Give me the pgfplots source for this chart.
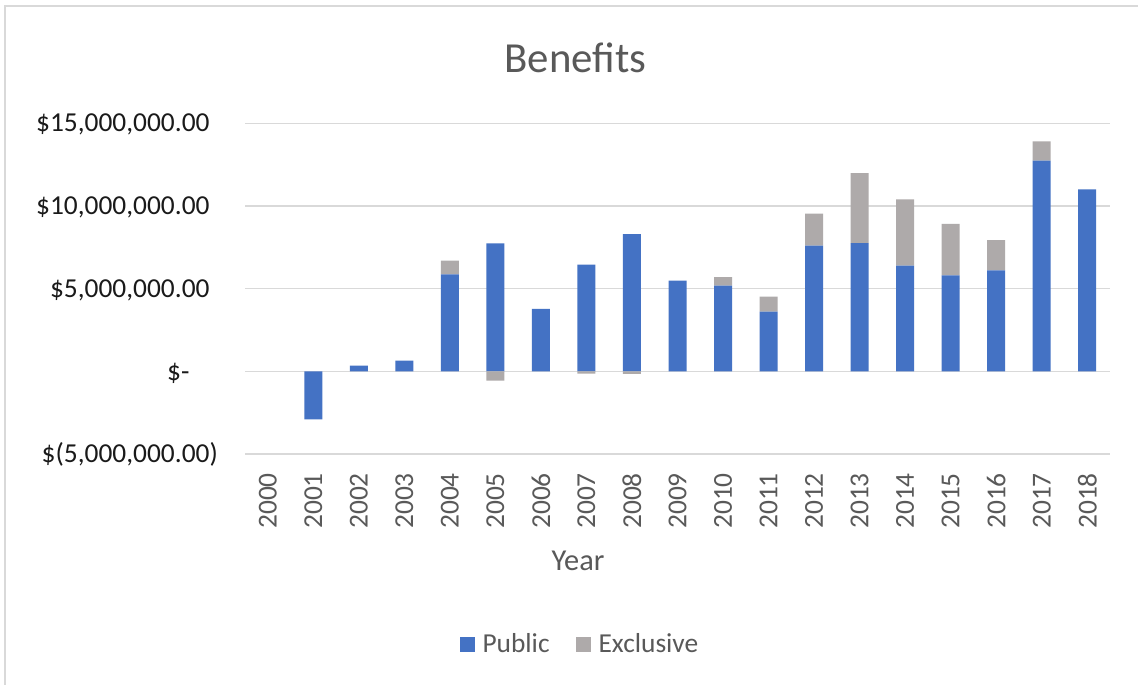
\documentclass[border=0pt]{standalone}
\usepackage{pgfplots}
\pgfplotsset{compat=1.18}
\usepackage{pgfplotstable}
\usepackage{fontspec}
\setmainfont{Carlito}

\definecolor{pubblue}{HTML}{4472C4}
\definecolor{exgray}{HTML}{AEAAAA}
\definecolor{txtgray}{HTML}{595959}
\definecolor{gridgray}{HTML}{D9D9D9}
\definecolor{ydark}{HTML}{1A1A1A}

% Benefits by year (index 0 = 2000); exclusive part above the public bar
\pgfplotstableread{
idx public   exclusive
0   0        0
1   -2900000 0
2   340000   0
3   640000   0
4   5870000  820000
5   7740000  0
6   3770000  0
7   6450000  0
8   8290000  0
9   5480000  0
10  5180000  510000
11  3610000  910000
12  7600000  1930000
13  7760000  4220000
14  6390000  4010000
15  5810000  3100000
16  6110000  1830000
17  12740000 1170000
18  11010000 0
}\benefits

% Negative exclusive amounts, drawn downward from zero
\pgfplotstableread{
idx exclusive
5   -570000
7   -140000
8   -160000
}\exclusiveneg

\pgfplotsset{
  benefitframe/.style={
    scale only axis,
    width=865bp, height=330.7bp,
    at={(245bp,231bp)}, anchor=south west,
    xmin=-0.5, xmax=18.5,
    ymin=-5000000, ymax=15000000,
    bar width=18bp,
  },
}

\begin{document}
\begin{tikzpicture}
\useasboundingbox (0,0) rectangle (1138bp,685bp);
\fill[white] (0,0) rectangle (1138bp,685bp);
\draw[gridgray, line width=2bp] (5bp,0) -- (5bp,679bp) -- (1138bp,679bp);

\begin{axis}[
  benefitframe,
  ybar stacked,
  axis line style={draw=none},
  major tick length=0pt,
  ymajorgrids,
  grid style={gridgray, line width=1.5bp},
  scaled y ticks=false,
  ytick={-5000000,0,5000000,10000000,15000000},
  yticklabels={{\$(5,000,000.00)},{\$-\kern20bp\phantom{)}},{\$5,000,000.00\phantom{)}},{\$10,000,000.00\phantom{)}},{\$15,000,000.00\phantom{)}}},
  xtick={0,...,18},
  xticklabels={2000,2001,2002,2003,2004,2005,2006,2007,2008,2009,2010,2011,2012,2013,2014,2015,2016,2017,2018},
  tick label style={font=\fontsize{27.5}{33}\selectfont, text=txtgray},
  yticklabel style={anchor=base east, inner sep=0pt, xshift=-27bp, yshift=-8.7bp, text=ydark},
  xticklabel style={rotate=90, anchor=east, inner sep=0pt},
  xticklabel shift=19bp,
  legend columns=2,
  legend image code/.code={\fill[#1] (0bp,-8bp) rectangle (15bp,7bp);},
  legend style={
    at={(0.386,-0.575)}, anchor=center,
    draw=none, fill=none,
    font=\fontsize{27.5}{33}\selectfont, text=txtgray,
    nodes={inner sep=0pt},
    /tikz/every odd column/.append style={column sep=8bp},
    /tikz/every even column/.append style={column sep=26bp},
  },
]
\addplot[fill=pubblue, draw=none] table[x=idx, y=public] {\benefits};
\addplot[fill=exgray, draw=none] table[x=idx, y=exclusive] {\benefits};
\legend{Public, Exclusive}
\end{axis}

\begin{axis}[
  benefitframe,
  ybar, bar shift=0pt,
  hide axis,
]
\addplot[fill=exgray, draw=none] table[x=idx, y=exclusive] {\exclusiveneg};
\end{axis}

\node[anchor=base, font=\fontsize{43}{50}\selectfont, text=txtgray] at (575.5bp,612bp) {Benefits};
\node[anchor=base, font=\fontsize{30.5}{36}\selectfont, text=txtgray] at (578bp,114bp) {Year};
\end{tikzpicture}
\end{document}
